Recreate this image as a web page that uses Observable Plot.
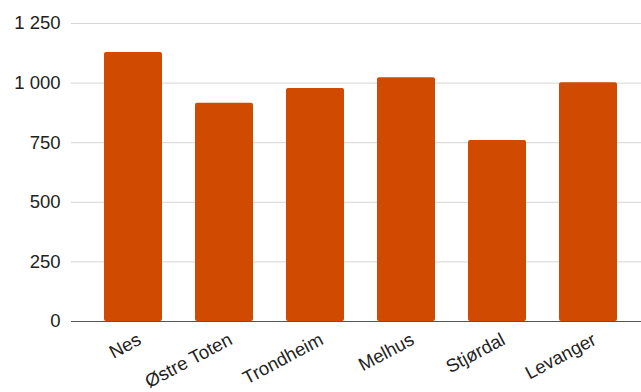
<!DOCTYPE html>
<html>
<head>
<meta charset="utf-8">
<script src="https://cdn.jsdelivr.net/npm/d3@7"></script>
<script src="https://cdn.jsdelivr.net/npm/@observablehq/plot@0.6"></script>
<style>
  html, body { margin: 0; padding: 0; background: #fff; }
  #chart svg { display: block; }
</style>
</head>
<body>
<div id="chart"></div>
<script>
const kommuner = ["Nes", "Østre Toten", "Trondheim", "Melhus", "Stjørdal", "Levanger"];
const verdier = [1128, 916, 977, 1022, 759, 1001];
const yTicks = [0, 250, 500, 750, 1000, 1250];

const data = kommuner.map((k, i) => ({kommune: k, verdi: verdier[i]}));
const fmt = d => d3.format(",")(d).replace(/,/g, "\u00a0");

const chart = Plot.plot({
  width: 641,
  height: 392,
  marginTop: 23,
  marginBottom: 71,
  marginLeft: 71,
  marginRight: 0,
  style: {fontFamily: "'Liberation Sans', Arial, sans-serif", fontSize: "18.5px", color: "#222", background: "#fff", overflow: "visible"},
  x: {domain: kommuner, padding: 0.36, paddingOuter: 0.18, insetLeft: 15, insetRight: 6, label: null, axis: null},
  y: {domain: [0, 1250], label: null},
  marks: [
    Plot.ruleY(yTicks.filter(d => d > 0), {stroke: "#d6d6d6", strokeWidth: 1}),
    Plot.barY(data, {x: "kommune", y: "verdi", fill: "#d04a02", rx: 2}),
    Plot.ruleY([0], {stroke: "#555", strokeWidth: 1.2}),
    Plot.axisY({ticks: yTicks, tickSize: 0, tickPadding: 11, tickFormat: fmt, fontSize: 18.5}),
    Plot.text(kommuner, {x: d => d, y: 0, text: d => d, rotate: -28, textAnchor: "end", lineAnchor: "bottom", dx: 9, dy: 22, fontSize: 18.5, fill: "#222"})
  ]
});
document.getElementById("chart").appendChild(chart);
</script>
</body>
</html>
